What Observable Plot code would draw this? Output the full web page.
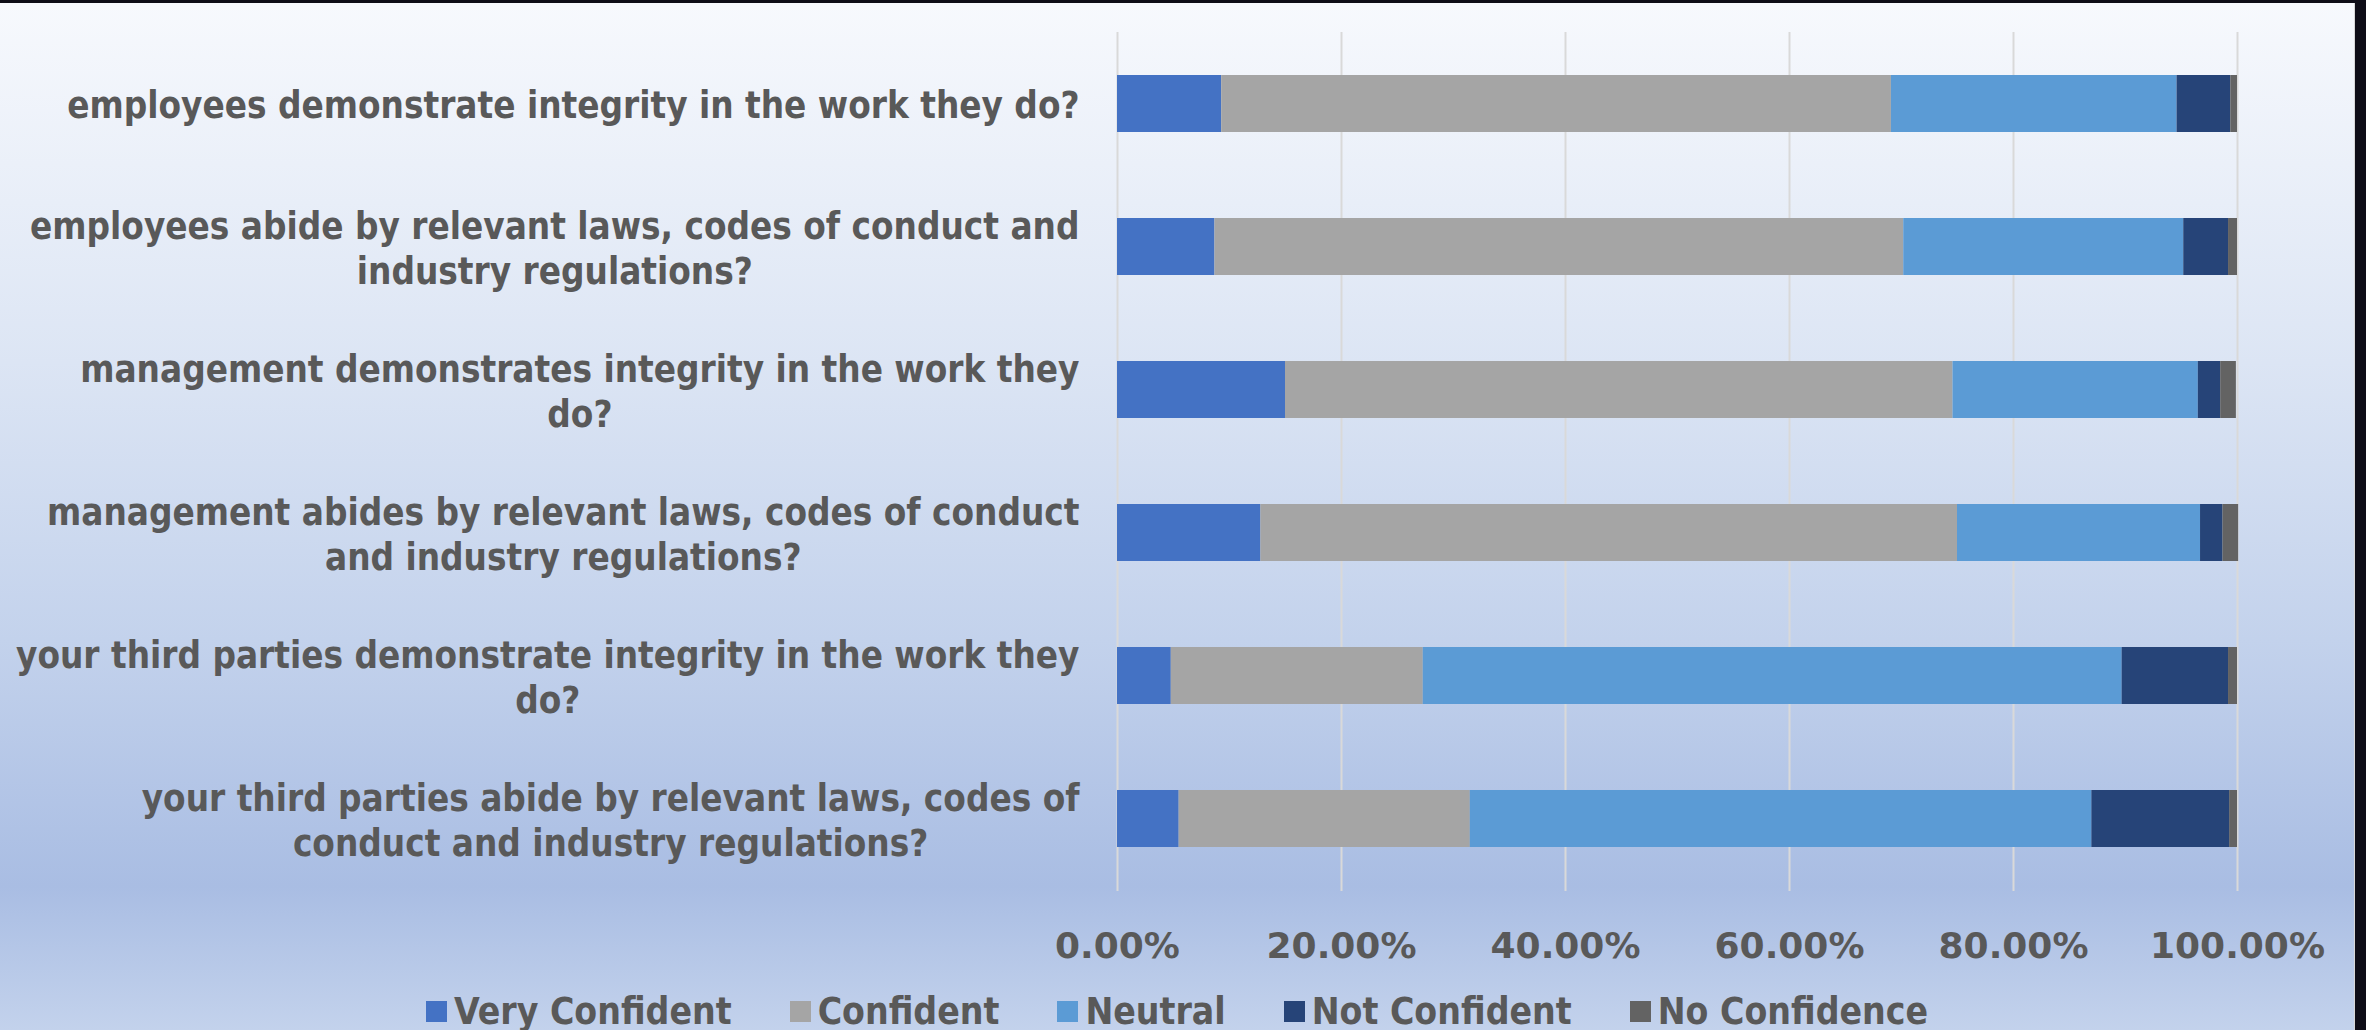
<!DOCTYPE html>
<html>
<head>
<meta charset="utf-8">
<script src="https://cdn.jsdelivr.net/npm/d3@7"></script>
<script src="https://cdn.jsdelivr.net/npm/@observablehq/plot@0.6"></script>
<style>
  html, body { margin: 0; padding: 0; }
  body { width: 2366px; height: 1030px; background: #0e0d17; overflow: hidden; position: relative; }
  #frame {
    position: absolute; left: 0; top: 3px; width: 2354px; height: 1027px;
    border-right: 1px solid #d8d8d8;
    background: linear-gradient(to bottom, #f7f9fd 0%, #dce5f4 35%, #c3d2ec 62%, #a9bde3 86%, #c3d2ec 100%);
  }
  #chart { position: absolute; left: 0; top: -3px; }
  #legend {
    position: absolute; left: 0; top: 982px; width: 2354px; height: 52px;
    display: flex; justify-content: center; align-items: center; gap: 58px;
    font-family: "DejaVu Sans Condensed", "DejaVu Sans", sans-serif; font-stretch: condensed;
    font-weight: bold; font-size: 37px; color: #595959;
  }
  .item { display: flex; align-items: center; gap: 7px; }
  .sw { width: 21px; height: 21px; display: inline-block; }
</style>
</head>
<body>
<div id="frame">
  <div id="chart"></div>
  <div id="legend"></div>
</div>
<script>
const questions = [
  "employees demonstrate integrity in the work they do?",
  "employees abide by relevant laws, codes of conduct and\nindustry regulations?",
  "management demonstrates integrity in the work they\ndo?",
  "management abides by relevant laws, codes of conduct\nand industry regulations?",
  "your third parties demonstrate integrity in the work they\ndo?",
  "your third parties abide by relevant laws, codes of\nconduct and industry regulations?"
];
const series = ["Very Confident", "Confident", "Neutral", "Not Confident", "No Confidence"];
const colors = ["#4472c4", "#a5a5a5", "#5b9bd5", "#264478", "#636363"];
// percentages per question, in order of `questions`
const veryConfident = [9.3, 8.7, 15.0, 12.8, 4.8, 5.5];
const confident     = [59.8, 61.5, 59.6, 62.2, 22.5, 26.0];
const neutral       = [25.5, 25.0, 21.9, 21.7, 62.4, 55.5];
const notConfident  = [4.8, 4.0, 2.0, 2.0, 9.5, 12.3];
const noConfidence  = [0.6, 0.8, 1.4, 1.4, 0.8, 0.7];
const xTicks = [0, 0.2, 0.4, 0.6, 0.8, 1.0];

const seriesValues = [veryConfident, confident, neutral, notConfident, noConfidence];
const data = [];
questions.forEach((q, i) => {
  series.forEach((s, j) => {
    data.push({question: q, series: s, order: j, value: seriesValues[j][i] / 100});
  });
});

const textColor = "#595959";

const chart = Plot.plot({
  width: 2354,
  height: 978,
  marginLeft: 1117,
  marginRight: 117,
  marginTop: 32,
  marginBottom: 87,
  style: {background: "transparent", overflow: "visible"},
  x: {domain: [0, 1], ticks: xTicks},
  y: {domain: questions, paddingInner: 0.6, paddingOuter: 0.3},
  color: {domain: series, range: colors},
  marks: [
    Plot.gridX(xTicks, {stroke: "#d9d9d9", strokeOpacity: 1, strokeWidth: 2}),
    Plot.barX(data, Plot.stackX({
      x: "value", y: "question", fill: "series", order: series,
      inset: 0
    })),
    Plot.axisX(xTicks, {
      tickSize: 0, tickPadding: 41, tickFormat: d3.format(".2%"),
      fontFamily: "DejaVu Sans", fontSize: 36, fontWeight: "bold", fill: textColor, label: null
    }),
    Plot.axisY({
      tickSize: 0, tickPadding: 38, lineHeight: 1.23,
      fontFamily: "DejaVu Sans Condensed", fontSize: 36.5, fontWeight: "bold", fill: textColor, label: null
    })
  ]
});
document.getElementById("chart").appendChild(chart);

// center wrapped lines of each multi-line category label relative to its widest line
chart.querySelectorAll('[aria-label="y-axis tick label"] text').forEach(t => {
  const spans = t.querySelectorAll("tspan");
  if (spans.length > 1) {
    let w = 0;
    spans.forEach(s => { w = Math.max(w, s.getComputedTextLength()); });
    t.setAttribute("text-anchor", "middle");
    spans.forEach(s => s.setAttribute("x", -w / 2));
  }
});

const legend = document.getElementById("legend");
series.forEach((s, j) => {
  const item = document.createElement("div");
  item.className = "item";
  const sw = document.createElement("span");
  sw.className = "sw";
  sw.style.background = colors[j];
  const lab = document.createElement("span");
  lab.textContent = s;
  item.appendChild(sw);
  item.appendChild(lab);
  legend.appendChild(item);
});
</script>
</body>
</html>
